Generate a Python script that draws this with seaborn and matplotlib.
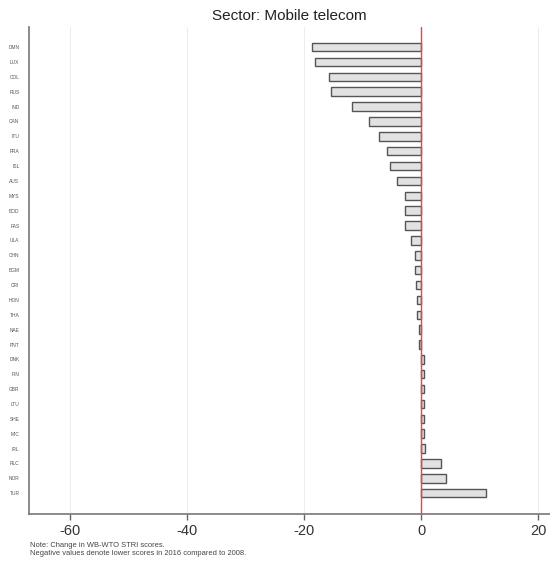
import matplotlib
matplotlib.use("Agg")
import matplotlib.pyplot as plt
import seaborn as sns
import pandas as pd

countries = ["DMN", "LUX", "COL", "RUS", "IND", "CAN", "ITU", "FRA", "ISL", "AUS",
             "MYS", "BOD", "FAS", "ULA", "CHN", "BGM", "CRI", "HON", "THA", "NAE",
             "PNT", "DNK", "FIN", "GBR", "LTU", "SHE", "MIC", "IRL", "RLC", "NOR", "TUR"]
changes = [-18.7, -18.1, -15.7, -15.4, -11.9, -8.9, -7.2, -5.8, -5.4, -4.1,
           -2.8, -2.7, -2.7, -1.7, -1.0, -1.0, -0.9, -0.8, -0.7, -0.35,
           -0.3, 0.5, 0.5, 0.5, 0.5, 0.5, 0.5, 0.6, 3.4, 4.3, 11.1]
xticks = [-60, -40, -20, 0, 20]

df = pd.DataFrame({"country": countries, "change": changes})

sns.set_theme(style="white")
plt.rcParams['font.family'] = ['Liberation Sans', 'DejaVu Sans']

fig = plt.figure(figsize=(5.5, 5.63), dpi=100)
ax = fig.add_axes([0.053, 0.087, 0.947, 0.865])

sns.barplot(data=df, x="change", y="country", orient="h", order=countries,
            color="#e2e2e2", edgecolor="#555555", linewidth=1.0, width=0.57,
            saturation=1, ax=ax)

ax.axvline(0, color="#ff3b3b", linewidth=1.0, zorder=3)
ax.set_xlim(-67, 22)
ax.set_ylim(len(countries) - 1 + 1.4, -1.35)
ax.set_xticks(xticks)
ax.set_xticklabels([str(v) for v in xticks], fontsize=10.5, color="#333333")
for v in xticks:
    ax.axvline(v, color="#e8eef2", linewidth=0.8, zorder=0)
ax.tick_params(axis="x", length=4, width=1, color="#666666", pad=3, bottom=True)
ax.tick_params(axis="y", labelsize=3.5, length=0, pad=7, colors="#555555")
ax.set_xlabel("")
ax.set_ylabel("")
for s in ["top", "right"]:
    ax.spines[s].set_visible(False)
for s in ["left", "bottom"]:
    ax.spines[s].set_color("#777777")
    ax.spines[s].set_linewidth(1.2)

ax.set_title("Sector: Mobile telecom", fontsize=11, pad=5, color="#222222")

fig.text(0.055, 0.0315, "Note: Change in WB-WTO STRI scores.", fontsize=5.4, color="#444444",
         va="center")
fig.text(0.055, 0.017, "Negative values denote lower scores in 2016 compared to 2008.",
         fontsize=5.4, color="#444444", va="center")

fig.savefig("out.png", dpi=100)
